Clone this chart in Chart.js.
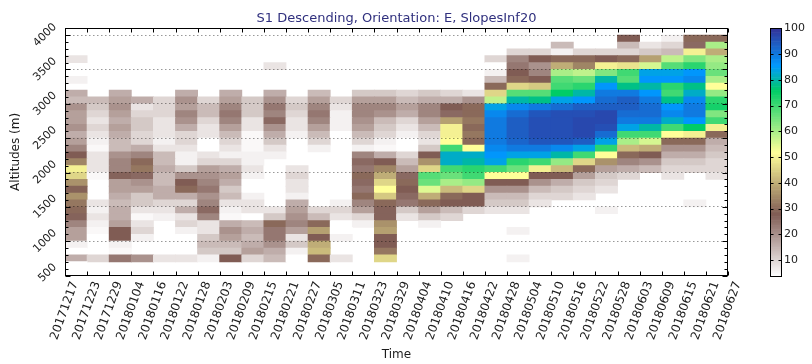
<!DOCTYPE html>
<html>
<head>
<meta charset="utf-8">
<script src="https://cdn.jsdelivr.net/npm/chart.js@4.4.1/dist/chart.umd.min.js"></script>
<style>
html, body { margin: 0; padding: 0; background: #fff; }
#wrap { width: 812px; height: 364px; }
</style>
</head>
<body>
<div id="wrap"><canvas id="myChart" width="812" height="364"></canvas></div>
<script>
'use strict';
// acquisition dates = column edges (30 cells between 31 dates)
let dates = ['20171217', '20171223', '20171229', '20180104', '20180116', '20180122', '20180128',
    '20180203', '20180209', '20180215', '20180221', '20180227', '20180305', '20180311', '20180323',
    '20180329', '20180404', '20180410', '20180416', '20180422', '20180428', '20180504', '20180510',
    '20180516', '20180522', '20180528', '20180603', '20180609', '20180615', '20180621', '20180627'];
// bottom of each 100 m altitude band
let altitudes = [];
for (let a = 500; a <= 4000; a += 100) {
    altitudes.push(a);
}
let bandSize = 100;
let altTicks = [500, 1000, 1500, 2000, 2500, 3000, 3500, 4000];
let colorTicks = [10, 20, 30, 40, 50, 60, 70, 80, 90, 100];
let vMin = 4;
let vMax = 100;

// one list per column, values from 500 m (first) up to 4000 m (last), 0 = no data
let snow = [
    [0,4,16,4,6, 18,18,22,27,30, 32,36,29,36,46, 50,34,28,22,18, 16,20,18,18,20, 14,16,0,6,0, 0,8,0,0,0, 0],
    [0,0,10,0,0, 4,5,6,8,6, 8,0,0,0,5, 8,8,8,5,6, 8,10,8,10,12, 14,0,0,0,0, 0,0,0,0,0, 0],
    [0,0,24,5,6, 28,28,18,16,16, 14,16,18,18,27, 22,22,20,14,14, 16,18,16,18,20, 18,16,0,0,0, 0,0,0,0,0, 0],
    [0,0,20,0,0, 6,10,8,5,8, 12,12,18,20,26, 32,30,22,16,10, 10,12,12,10,8, 16,0,0,0,0, 0,0,0,0,0, 0],
    [0,0,8,0,0, 0,0,0,6,8, 10,16,16,14,14, 16,14,14,8,6, 8,8,8,10,10, 10,0,0,0,0, 0,0,0,0,0, 0],
    [0,0,8,0,0, 4,6,10,8,16, 10,16,30,28,20, 12,6,6,8,10, 10,16,20,22,18, 20,16,0,0,0, 0,0,0,0,0, 0],
    [0,0,6,12,14, 12,8,8,22,26, 22,20,24,22,20, 18,10,8,4,4, 8,8,10,14,14, 10,0,0,0,0, 0,0,0,0,0, 0],
    [0,0,28,12,14, 18,20,16,5,6, 8,14,12,16,18, 16,10,6,8,10, 14,18,22,24,22, 18,16,0,0,0, 0,0,0,0,0, 0],
    [0,0,10,18,16, 14,16,14,4,8, 8,6,4,4,6, 8,6,6,5,5, 5,8,8,12,12, 12,0,0,0,0, 0,0,0,0,0, 0],
    [0,0,14,16,20, 24,24,30,12,8, 0,0,0,0,0, 4,0,6,8,12, 16,20,26,22,24, 20,16,0,0,0, 8,0,0,0,0, 0],
    [0,0,4,6,12, 8,18,22,20,18, 16,6,8,8,10, 8,0,0,0,0, 6,8,8,10,12, 10,0,0,0,0, 0,0,0,0,0, 0],
    [0,0,30,42,40, 28,38,30,14,10, 0,0,0,0,0, 0,0,0,6,10, 14,18,22,24,22, 18,14,0,0,0, 0,0,0,0,0, 0],
    [0,0,8,0,0, 6,4,4,8,10, 6,0,0,0,0, 0,0,0,0,0, 4,6,6,6,8, 10,0,0,0,0, 0,0,0,0,0, 0],
    [0,0,0,0,0, 0,0,6,10,18, 22,30,24,26,30, 24,26,22,6,10, 14,18,20,22,22, 18,12,0,0,0, 0,0,0,0,0, 0],
    [0,0,46,32,28, 28,38,36,27,27, 30,44,52,46,40, 34,28,16,5,6, 10,12,14,20,22, 18,12,0,0,0, 0,0,0,0,0, 0],
    [0,0,0,0,0, 0,0,0,8,12, 24,26,28,30,26, 18,14,10,4,4, 6,8,10,16,18, 14,10,0,0,0, 0,0,0,0,0, 0],
    [0,0,0,0,0, 0,0,6,12,18, 30,40,55,66,68, 46,36,28,12,8, 10,14,18,22,22, 16,12,0,0,0, 0,0,0,0,0, 0],
    [0,0,0,0,0, 0,0,0,10,14, 28,30,42,60,66, 70,82,82,70,52, 50,50,38,26,28, 16,10,0,0,0, 0,0,0,0,0, 0],
    [0,0,0,0,0, 0,0,0,0,10, 28,28,46,62,70, 72,80,82,52,30, 32,30,32,30,30, 20,8,0,0,0, 0,0,0,0,0, 0],
    [0,0,0,0,0, 0,0,0,0,8, 12,14,20,28,52, 70,84,86,88,90, 90,90,90,88,84, 58,46,30,14,6, 4,10,0,0,0, 0],
    [0,0,6,0,0, 0,6,0,0,8, 12,14,20,28,52, 66,72,84,90,93, 94,94,94,92,88, 80,68,46,30,28, 24,22,10,0,0, 0],
    [0,0,0,0,0, 0,0,0,0,0, 8,10,14,20,28, 50,70,84,90,95, 96,96,96,95,90, 78,68,44,28,22, 20,28,10,4,0, 0],
    [0,0,0,0,0, 0,0,0,0,0, 0,10,12,16,28, 42,62,80,88,95, 96,96,96,96,92, 84,76,70,68,60, 40,30,6,14,0, 0],
    [0,0,0,0,0, 0,0,0,0,0, 0,8,10,12,18, 30,46,70,84,94, 97,97,97,96,94, 86,80,72,66,58, 34,30,10,0,0, 0],
    [0,0,0,0,0, 0,0,0,0,6, 0,0,8,10,12, 18,36,52,72,84, 92,96,97,97,94, 92,90,86,80,64, 50,28,10,0,0, 0],
    [0,0,0,0,0, 0,0,0,0,0, 0,0,0,0,10, 16,22,30,42,60, 70,84,90,92,94, 94,90,78,68,70, 48,30,10,14,28, 0],
    [0,0,0,0,0, 0,0,0,0,0, 0,0,0,0,0, 14,20,28,40,56, 70,80,90,92,92, 90,86,80,86,84, 56,38,12,8,0, 0],
    [0,0,0,0,0, 0,0,0,0,0, 0,0,0,0,8, 10,12,16,20,30, 52,70,82,88,86, 78,70,72,86,84, 68,58,14,10,6, 0],
    [0,0,0,0,0, 0,0,0,0,0, 6,0,0,0,0, 10,12,16,20,30, 50,76,86,90,90, 88,82,78,88,86, 72,64,50,26,30, 0],
    [0,0,0,0,0, 0,0,0,0,0, 0,0,0,0,8, 10,10,12,14,16, 30,50,70,64,74, 72,62,52,60,66, 62,60,40,60,30, 0]
];

// matplotlib terrain, used reversed
let terrainStops = [
    [0.00, [0.2, 0.2, 0.6]],
    [0.15, [0.0, 0.6, 1.0]],
    [0.25, [0.0, 0.8, 0.4]],
    [0.50, [1.0, 1.0, 0.6]],
    [0.75, [0.5, 0.36, 0.33]],
    [1.00, [1.0, 1.0, 1.0]]
];

function terrainR(v) {
    let n = (v - vMin) / (vMax - vMin);
    n = Math.min(1, Math.max(0, n));
    let t = 1 - n;
    for (let k = 1; k < terrainStops.length; k++) {
        let a = terrainStops[k - 1];
        let b = terrainStops[k];
        if (t <= b[0]) {
            let f = (t - a[0]) / (b[0] - a[0]);
            let c = [0, 1, 2].map(m => Math.round(255 * (a[1][m] + f * (b[1][m] - a[1][m]))));
            return `rgb(${c[0]}, ${c[1]}, ${c[2]})`;
        }
    }
    return 'rgb(255, 255, 255)';
}

let datasets = [];
for (let j = 0; j < altitudes.length; j++) {
    let points = [];
    for (let i = 0; i < snow.length; i++) {
        let v = snow[i][j];
        if (v > 0) {
            points.push({ x: i + 0.5, y: [altitudes[j], altitudes[j] + bandSize], v: v });
        }
    }
    datasets.push({
        label: altitudes[j] + ' m',
        data: points,
        backgroundColor: ctx => terrainR(ctx.raw ? ctx.raw.v : 0),
        borderWidth: 0,
        barPercentage: 1,
        categoryPercentage: 1,
        grouped: false,
        inflateAmount: 0.4
    });
}

let font = 'DejaVu Sans';
let textColor = '#1c1c1c';

// keep vertical axes from reserving space above/below the plot
function noPad(s) {
    s.paddingTop = 0;
    s.paddingBottom = 0;
}

let framePlugin = {
    id: 'frame',
    afterDraw(chart) {
        let ctx = chart.ctx;
        let a = chart.chartArea;
        let xs = chart.scales.x;
        let ys = chart.scales.y;
        let cb = chart.scales.cb;
        let L = Math.round(a.left) + 0.5;
        let R = Math.round(a.right) - 0.5;
        let T = Math.round(a.top) + 0.5;
        let B = Math.round(a.bottom) - 0.5;
        ctx.save();
        ctx.strokeStyle = '#000';
        ctx.lineWidth = 1;
        ctx.strokeRect(L, T, R - L, B - T);

        // inward tick marks
        ctx.beginPath();
        for (let i = 0; i < dates.length; i++) {
            let x = Math.round(xs.getPixelForValue(i)) + 0.5;
            ctx.moveTo(x, B); ctx.lineTo(x, B - 4);
            ctx.moveTo(x, T); ctx.lineTo(x, T + 4);
        }
        for (let h = 500; h <= 4100; h += 100) {
            let y = Math.round(ys.getPixelForValue(h)) + 0.5;
            let len = altTicks.includes(h) ? 5 : 3;
            ctx.moveTo(L, y); ctx.lineTo(L + len, y);
            ctx.moveTo(R, y); ctx.lineTo(R - len, y);
        }
        ctx.stroke();

        // colorbar
        let x0 = Math.round(a.right) + 42;
        let w = 11;
        for (let v = vMin; v < vMax; v += 0.5) {
            let y1 = cb.getPixelForValue(v);
            let y2 = cb.getPixelForValue(Math.min(v + 0.5, vMax));
            ctx.fillStyle = terrainR(v + 0.25);
            ctx.fillRect(x0, y2, w, y1 - y2 + 0.6);
        }
        let cT = Math.round(cb.top) + 0.5;
        let cB = Math.round(cb.bottom) + 0.5;
        ctx.strokeRect(x0 + 0.5, cT, w, cB - cT);
        ctx.beginPath();
        for (let k = 0; k < colorTicks.length; k++) {
            let y = Math.round(cb.getPixelForValue(colorTicks[k])) + 0.5;
            ctx.moveTo(x0 + 0.5, y); ctx.lineTo(x0 + 3.5, y);
            ctx.moveTo(x0 + w + 0.5, y); ctx.lineTo(x0 + w - 2.5, y);
        }
        ctx.stroke();
        ctx.restore();
    }
};

let chart = new Chart(document.getElementById('myChart').getContext('2d'), {
    type: 'bar',
    data: { datasets: datasets },
    options: {
        responsive: false,
        devicePixelRatio: 1,
        animation: false,
        events: [],
        layout: { padding: 0 },
        plugins: {
            legend: { display: false },
            tooltip: { enabled: false },
            title: {
                display: true,
                text: 'S1 Descending, Orientation: E, SlopesInf20',
                color: '#30307e',
                fullSize: false,
                font: { family: font, size: 13, weight: 'normal' },
                padding: { top: 11, bottom: 1.7 }
            }
        },
        scales: {
            x: {
                type: 'linear',
                min: 0,
                max: dates.length - 1,
                offset: false,
                afterFit: s => { s.height = 88.5; },
                afterBuildTicks: s => { s.ticks = dates.map((d, i) => ({ value: i })); },
                grid: { display: false, drawTicks: false, offset: false },
                border: { display: false },
                ticks: {
                    autoSkip: false,
                    minRotation: 70,
                    maxRotation: 70,
                    padding: 4,
                    labelOffset: 10,
                    color: textColor,
                    font: { family: font, size: 12 },
                    callback: v => dates[Math.round(v)]
                },
                title: {
                    display: true,
                    text: 'Time',
                    color: textColor,
                    font: { family: font, size: 12 },
                    padding: { top: 2, bottom: 2 }
                }
            },
            y: {
                type: 'linear',
                position: 'left',
                min: 500,
                max: 4100,
                afterFit: s => { s.width = 65; noPad(s); },
                afterBuildTicks: s => { s.ticks = altTicks.map(v => ({ value: v })); },
                grid: { z: 1, color: 'rgba(0, 0, 0, 0.5)', lineWidth: 0.8, drawTicks: false },
                border: { display: false, dash: [1.5, 2.5] },
                ticks: {
                    minRotation: 45,
                    maxRotation: 45,
                    padding: 10,
                    labelOffset: -10,
                    color: textColor,
                    font: { family: font, size: 11 },
                    callback: v => String(v)
                },
                title: {
                    display: true,
                    text: 'Altitudes (m)',
                    color: textColor,
                    font: { family: font, size: 12 },
                    padding: { top: 9, bottom: 0 }
                }
            },
            cb: {
                type: 'linear',
                position: 'right',
                min: vMin,
                max: vMax,
                afterFit: s => { s.width = 84; noPad(s); },
                afterBuildTicks: s => { s.ticks = colorTicks.map(v => ({ value: v })); },
                grid: { display: false, drawTicks: false },
                border: { display: false },
                ticks: {
                    padding: 56,
                    color: textColor,
                    font: { family: font, size: 11 },
                    callback: v => String(v)
                }
            }
        }
    },
    plugins: [framePlugin]
});
</script>
</body>
</html>
